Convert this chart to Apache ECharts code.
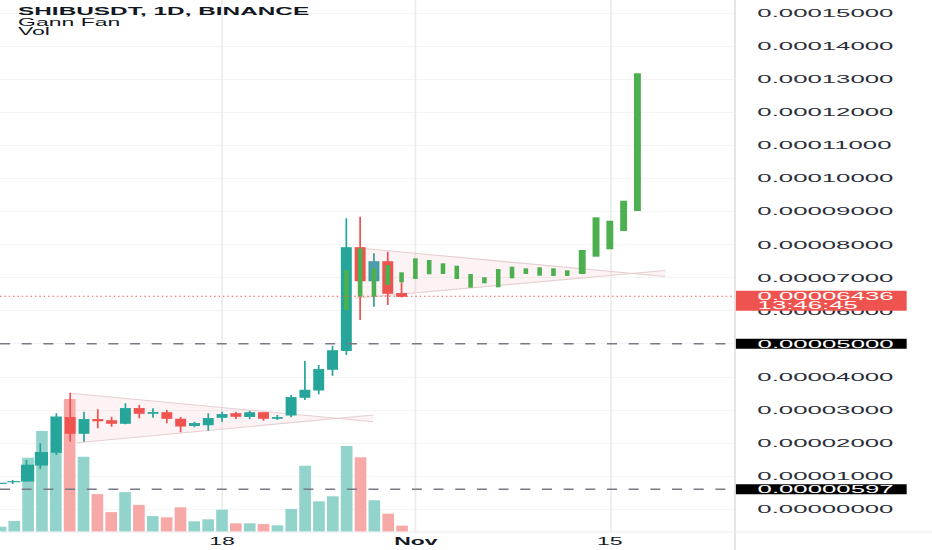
<!DOCTYPE html>
<html><head><meta charset="utf-8">
<script src="https://cdn.jsdelivr.net/npm/echarts@6/dist/echarts.min.js"></script>
<style>
html,body{margin:0;padding:0;background:#fff;overflow:hidden;width:932px;height:550px}
#chart{width:405px;height:550px;transform:scaleX(2.301235);transform-origin:0 0}
</style></head><body><div id="chart"></div>
<script>
// ---- data (SHIB/USDT daily, Binance) ----
const candleDates = ['2021-10-02','2021-10-03','2021-10-04','2021-10-05','2021-10-06','2021-10-07','2021-10-08','2021-10-09','2021-10-10','2021-10-11','2021-10-12','2021-10-13','2021-10-14','2021-10-15','2021-10-16','2021-10-17','2021-10-18','2021-10-19','2021-10-20','2021-10-21','2021-10-22','2021-10-23','2021-10-24','2021-10-25','2021-10-26','2021-10-27','2021-10-28','2021-10-29','2021-10-30','2021-10-31'];
const openPrices  = [0.00000770,0.00000820,0.00000847,0.00001331,0.00001716,0.00002775,0.00002290,0.00002714,0.00002672,0.00002593,0.00003047,0.00002896,0.00002914,0.00002723,0.00002520,0.00002542,0.00002775,0.00002884,0.00002793,0.00002914,0.00002744,0.00002844,0.00003380,0.00003600,0.00004227,0.00004790,0.00007906,0.00006899,0.00007483,0.00006526];
const closePrices = [0.00000780,0.00000830,0.00001331,0.00001716,0.00002775,0.00002290,0.00002714,0.00002663,0.00002593,0.00003047,0.00002896,0.00002926,0.00002744,0.00002511,0.00002593,0.00002744,0.00002865,0.00002805,0.00002914,0.00002744,0.00002775,0.00003380,0.00003600,0.00004227,0.00004790,0.00007906,0.00006899,0.00007483,0.00006526,0.00006436];
const lowPrices   = [0.00000760,0.00000760,0.00000826,0.00001210,0.00001634,0.00002036,0.00002036,0.00002442,0.00002490,0.00002563,0.00002744,0.00002762,0.00002593,0.00002321,0.00002472,0.00002369,0.00002641,0.00002723,0.00002714,0.00002672,0.00002693,0.00002775,0.00003298,0.00003470,0.00004033,0.00004660,0.00005719,0.00006121,0.00006172,0.00006400];
const highPrices  = [0.00000790,0.00000880,0.00001483,0.00001988,0.00002896,0.00003519,0.00002944,0.00003017,0.00002793,0.00003198,0.00003147,0.00003047,0.00002995,0.00002784,0.00002641,0.00002896,0.00002944,0.00002944,0.00002974,0.00002930,0.00002844,0.00003449,0.00004478,0.00004357,0.00004940,0.00008796,0.00008844,0.00007736,0.00007785,0.00006860];
const volumes     = [1.25,2.68,18.5,25.2,28.9,33.2,18.75,9.4,4.9,9.9,6.7,3.9,3.6,6.1,2.6,3.1,5.5,2.1,2.1,1.9,1.6,5.7,16.5,7.6,8.85,21.4,18.6,7.85,4.5,1.5];

// projected bars (bars pattern)
const projDates = ['2021-10-27','2021-10-28','2021-10-29','2021-10-30','2021-10-31','2021-11-01','2021-11-02','2021-11-03','2021-11-04','2021-11-05','2021-11-06','2021-11-07','2021-11-08','2021-11-09','2021-11-10','2021-11-11','2021-11-12','2021-11-13','2021-11-14','2021-11-15','2021-11-16','2021-11-17'];
const projLow  = [0.00006021,0.00006424,0.00006424,0.00006778,0.00006859,0.00006959,0.00007101,0.00007110,0.00006959,0.00006696,0.00006829,0.00006708,0.00006980,0.00007110,0.00007059,0.00007050,0.00007050,0.00007110,0.00007634,0.00007858,0.00008411,0.00009017];
const projHigh = [0.00007231,0.00007888,0.00007283,0.00007383,0.00007162,0.00007585,0.00007534,0.00007434,0.00007362,0.00007110,0.00007011,0.00007262,0.00007331,0.00007283,0.00007313,0.00007283,0.00007222,0.00007837,0.00008826,0.00008723,0.00009328,0.00013183];

// Gann fan drawings: [day offset from 2021-10-18, price]
const fan1Upper = [[-10.95, 0.00003501], [10.92, 0.00002641]];
const fan1Lower = [[-10.47, 0.00002006], [10.92, 0.00002844]];
const fan2Upper = [[9.625, 0.00007906], [32.0, 0.00007035]];
const fan2Lower = [[9.625, 0.00006375], [32.0, 0.00007216]];

// horizontal levels and price tags
const dashedLevels = [0.00005000, 0.00000597];
const lastPrice = 0.00006436;
const countdown = '13:46:45';

// axis ticks
const priceTicks = [0,0.00001,0.00002,0.00003,0.00004,0.00005,0.00006,0.00007,0.00008,0.00009,0.00010,0.00011,0.00012,0.00013,0.00014,0.00015];
const xTickDays = [0, 14, 28];
const xTickLabels = ['18', 'Nov', '15'];
const titleLines = ['SHIBUSDT, 1D, BINANCE', 'Gann Fan', 'Vol'];

// ---- build ----
const BASE = Date.UTC(2021, 9, 18);
const dayOf = s => (Date.parse(s + 'T00:00:00Z') - BASE) / 86400000;
const X_MIN = -16.03, X_MAX = 37.04;
const SX = 2.301235;
const FONT = "'Liberation Sans', Arial, sans-serif";
const UP = '#26a69a', DOWN = '#ef5350';

const candleData = candleDates.map((d, i) => {
  const item = { value: [dayOf(d), openPrices[i], closePrices[i], lowPrices[i], highPrices[i]] };
  if (d === '2021-10-29') item.itemStyle = { color: '#4f9bb0', borderColor: '#3d9c98' };
  return item;
});
const volData = candleDates.map((d, i) => ({
  value: [dayOf(d), volumes[i]],
  itemStyle: { color: closePrices[i] >= openPrices[i] ? '#92d3cc' : '#f7a9a7' }
}));
const projData = projDates.map((d, i) => [dayOf(d), projLow[i], projHigh[i], projLow[i], projHigh[i]]);
const fans = [{ upper: fan1Upper, lower: fan1Lower }, { upper: fan2Upper, lower: fan2Lower }];
const tagPrices = [lastPrice].concat(dashedLevels);

const levelSeries = (lvl, style) => ({
  type: 'line', xAxisIndex: 0, yAxisIndex: 0, z: 4, silent: true, symbol: 'none',
  data: [[X_MIN, lvl], [X_MAX, lvl]], lineStyle: style
});

const chart = echarts.init(document.getElementById('chart'), null, { renderer: 'svg', width: 405, height: 550 });
const GRID_RIGHT = 405 - 735 / SX;

chart.setOption({
  animation: false,
  backgroundColor: '#ffffff',
  title: [
    { text: titleLines[0], left: 18 / SX, top: 5.8, padding: 0, textStyle: { color: '#131722', fontSize: 10.6, lineHeight: 11, fontWeight: 'bold', fontFamily: FONT } },
    { text: titleLines[1] + '\n' + titleLines[2], left: 18 / SX, top: 18.2, padding: 0, textStyle: { color: '#131722', fontSize: 10, lineHeight: 9, fontWeight: 'normal', fontFamily: FONT } }
  ],
  grid: [
    { left: 0, right: GRID_RIGHT, top: 0, bottom: 18, outerBoundsMode: 'none', containLabel: false },
    { left: 0, right: GRID_RIGHT, top: 331.7, bottom: 18.3, outerBoundsMode: 'none', containLabel: false }
  ],
  xAxis: [
    { gridIndex: 0, type: 'value', min: X_MIN, max: X_MAX,
      axisLine: { show: false }, axisTick: { show: false, customValues: xTickDays },
      splitLine: { show: true, lineStyle: { color: '#ededed', width: 0.8 } },
      axisLabel: { customValues: xTickDays, margin: 4.7, color: '#131722', fontSize: 10, fontFamily: FONT,
        formatter: v => { const i = xTickDays.indexOf(Math.round(v)); const t = xTickLabels[i] || ''; return t === 'Nov' ? '{b|' + t + '}' : t; },
        rich: { b: { fontWeight: 'bold', fontSize: 10, fontFamily: FONT, color: '#131722' } } } },
    { gridIndex: 1, type: 'value', min: X_MIN, max: X_MAX, show: false }
  ],
  yAxis: [
    { gridIndex: 0, type: 'value', position: 'right', min: -0.00000696, max: 0.00015401, scale: true,
      axisLine: { show: false }, axisTick: { show: false, customValues: priceTicks },
      splitLine: { show: true, lineStyle: { color: '#f4f4f4', width: 1 } },
      axisLabel: { customValues: priceTicks, formatter: v => v.toFixed(8), margin: 9.7, color: '#2a2e39', fontSize: 11.2, lineHeight: 9, fontFamily: FONT } },
    { gridIndex: 1, type: 'value', min: 0, max: 50, show: false }
  ],
  graphic: [
    { type: 'line', silent: true, z: 10, shape: { x1: 735 / SX, y1: 0, x2: 735 / SX, y2: 550 }, style: { stroke: '#e2e2e2', lineWidth: 0.8 } },
    { type: 'line', silent: true, z: 10, shape: { x1: 0, y1: 532, x2: 405, y2: 532 }, style: { stroke: '#ebebeb', lineWidth: 1 } }
  ],
  series: [
    { name: 'Vol', type: 'bar', xAxisIndex: 1, yAxisIndex: 1, data: volData, barWidth: 5.07, z: 1, silent: true },
    { name: 'Gann Fan', type: 'custom', xAxisIndex: 0, yAxisIndex: 0, z: 1, silent: true, clip: false,
      data: fans.map(f => f.upper[0]), encode: { x: 0, y: 1 },
      renderItem: (params, api) => {
        const f = fans[params.dataIndex];
        const u0 = api.coord(f.upper[0]), u1 = api.coord(f.upper[1]);
        const l0 = api.coord(f.lower[0]), l1 = api.coord(f.lower[1]);
        const ls = { stroke: '#e6cfd2', lineWidth: 1.1, fill: null };
        return { type: 'group', children: [
          { type: 'polygon', shape: { points: [u0, u1, l1, l0] }, style: { fill: 'rgba(242,54,69,0.06)', stroke: null } },
          { type: 'polyline', shape: { points: [u0, u1] }, style: ls },
          { type: 'polyline', shape: { points: [l0, l1] }, style: ls }
        ] };
      } },
    { name: 'SHIBUSDT', type: 'candlestick', xAxisIndex: 0, yAxisIndex: 0, z: 2, silent: true,
      dimensions: ['day', 'open', 'close', 'lowest', 'highest'], encode: { x: 0, y: [1, 2, 3, 4] },
      data: candleData, barWidth: 5.0,
      itemStyle: { color: UP, color0: DOWN, borderColor: UP, borderColor0: DOWN, borderWidth: 0.75 } },
    { name: 'Projection', type: 'candlestick', xAxisIndex: 0, yAxisIndex: 0, z: 3, silent: true,
      dimensions: ['day', 'open', 'close', 'lowest', 'highest'], encode: { x: 0, y: [1, 2, 3, 4] },
      data: projData, barWidth: 2.6,
      itemStyle: { color: '#4caf50', color0: '#4caf50', borderColor: '#4caf50', borderColor0: '#4caf50', borderWidth: 0 } },
    levelSeries(dashedLevels[0], { color: '#787b86', type: [4.35, 5.07], width: 1.5 }),
    levelSeries(dashedLevels[1], { color: '#787b86', type: [4.35, 5.07], width: 1.5 }),
    levelSeries(lastPrice, { color: '#ef5350', type: [0.6, 1.3], width: 1 }),
    { name: 'Tags', type: 'custom', xAxisIndex: 0, yAxisIndex: 0, z: 5, silent: true, clip: false,
      data: tagPrices.map(p => [X_MAX, p]), encode: { x: 0, y: 1 },
      renderItem: (params, api) => {
        const i = params.dataIndex;
        const pt = api.coord([X_MAX, tagPrices[i]]);
        const txt = { fill: '#ffffff', fontSize: 11.2, lineHeight: 8.7, fontFamily: FONT, verticalAlign: 'top' };
        const label = i === 0 ? tagPrices[i].toFixed(8) + '\n' + countdown : tagPrices[i].toFixed(8);
        const boxTop = i === 0 ? pt[1] - 5.6 : pt[1] - 5;
        return { type: 'group', children: [
          { type: 'rect', shape: { x: pt[0], y: boxTop, width: 74.6, height: i === 0 ? 20 : 10 }, style: { fill: i === 0 ? '#ef5350' : '#000000' } },
          { type: 'text', x: pt[0] + 9.8, y: pt[1] - 4.35, style: Object.assign({ text: label }, txt) }
        ] };
      } }
  ]
});
</script></body></html>
